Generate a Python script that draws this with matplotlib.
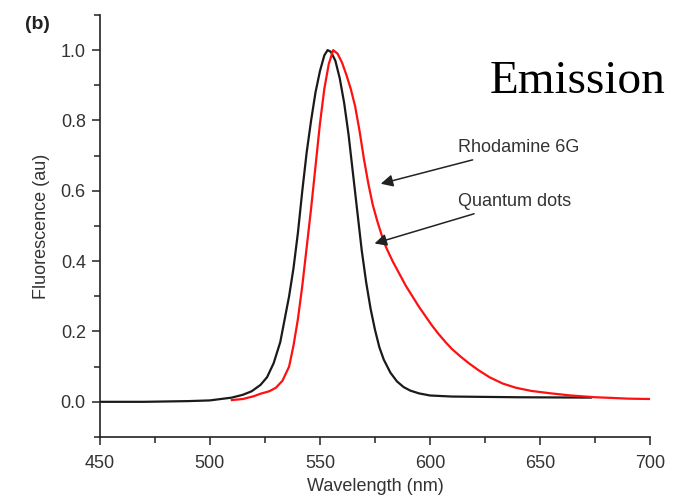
import matplotlib
matplotlib.use('Agg')
import matplotlib.pyplot as plt
from matplotlib.ticker import MultipleLocator

plt.rcParams['font.family'] = ['Liberation Sans', 'DejaVu Sans']

# quantum dots emission (black)
qd_wl = [450, 470, 490, 500, 510, 515, 519, 523, 526, 529, 532, 534, 536, 538,
         540, 542, 544, 546, 548, 550, 552, 553.5, 555, 557, 559, 561, 563, 565,
         567, 569, 571, 573, 575, 577, 579, 582, 585, 588, 591, 595, 600, 610,
         640, 673]
qd_fl = [0.0, 0.0, 0.002, 0.004, 0.012, 0.02, 0.03, 0.048, 0.07, 0.11, 0.17, 0.235,
         0.3, 0.38, 0.48, 0.6, 0.71, 0.8, 0.88, 0.94, 0.985, 1.0, 0.995, 0.97,
         0.92, 0.85, 0.76, 0.65, 0.54, 0.43, 0.34, 0.265, 0.205, 0.155, 0.12,
         0.083, 0.058, 0.042, 0.032, 0.024, 0.018, 0.015, 0.013, 0.012]

# rhodamine 6G emission (red)
r6g_wl = [510, 515, 520, 523, 527, 530, 533, 536, 538, 540, 542, 544, 546, 548,
          550, 552, 554, 556, 558, 560, 562, 564, 566, 568, 570, 572, 574, 576,
          578, 580, 583, 586, 589, 592, 595, 598, 601, 604, 607, 610, 614, 618,
          622, 627, 633, 639, 646, 655, 664, 675, 683, 690, 700]
r6g_fl = [0.005, 0.008, 0.016, 0.023, 0.03, 0.04, 0.06, 0.1, 0.16, 0.235, 0.33,
          0.44, 0.55, 0.67, 0.79, 0.89, 0.96, 1.0, 0.99, 0.965, 0.93, 0.89, 0.84,
          0.77, 0.69, 0.62, 0.56, 0.515, 0.475, 0.44, 0.4, 0.365, 0.33, 0.3, 0.27,
          0.243, 0.216, 0.192, 0.17, 0.15, 0.128, 0.108, 0.09, 0.07, 0.052, 0.04,
          0.031, 0.024, 0.018, 0.013, 0.011, 0.009, 0.008]

x_ticks = [450, 500, 550, 600, 650, 700]
y_ticks = [0.0, 0.2, 0.4, 0.6, 0.8, 1.0]

fig = plt.figure(figsize=(6.83, 4.98), dpi=100)
ax = fig.add_axes([0.146, 0.1225, 0.806, 0.8475])

ax.plot(qd_wl, qd_fl, color='#1a1a1a', lw=1.6)
ax.plot(r6g_wl, r6g_fl, color='#ff1010', lw=1.6)

ax.set_xlim(450, 700)
ax.set_ylim(-0.1, 1.1)
ax.set_xticks(x_ticks)
ax.set_yticks(y_ticks)
ax.set_yticklabels([f"{v:.1f}" for v in y_ticks])
ax.xaxis.set_minor_locator(MultipleLocator(25))
ax.yaxis.set_minor_locator(MultipleLocator(0.1))

for s in ('top', 'right'):
    ax.spines[s].set_visible(False)
for s in ('left', 'bottom'):
    ax.spines[s].set_linewidth(1.2)
    ax.spines[s].set_color('#222222')

ax.tick_params(which='major', direction='out', length=6, width=1.1,
               color='#222222', labelsize=13, labelcolor='#333333', pad=4)
ax.tick_params(axis='x', which='major', pad=7)
ax.tick_params(which='minor', direction='out', length=4, width=1.1, color='#222222')

ax.set_xlabel("Wavelength (nm)", fontsize=13, color='#333333', labelpad=4)
ax.set_ylabel("Fluorescence (au)", fontsize=13, color='#333333', labelpad=8)

arrow = dict(arrowstyle='-|>', color='#222222', lw=1.1, mutation_scale=18)
ax.annotate("Rhodamine 6G", xy=(576.4, 0.618), xytext=(612.7, 0.722),
            fontsize=13, color='#333333', va='center', ha='left',
            arrowprops=arrow)
ax.annotate("Quantum dots", xy=(573.6, 0.448), xytext=(612.7, 0.569),
            fontsize=13, color='#333333', va='center', ha='left',
            arrowprops=arrow)

fig.text(0.717, 0.813, "Emission", family='Liberation Serif', fontsize=34,
         color='black', ha='left', va='baseline')
fig.text(0.036, 0.95, "(b)", fontsize=14, fontweight='bold', color='#222222',
         ha='left', va='center')

fig.savefig('out.png', dpi=100)
